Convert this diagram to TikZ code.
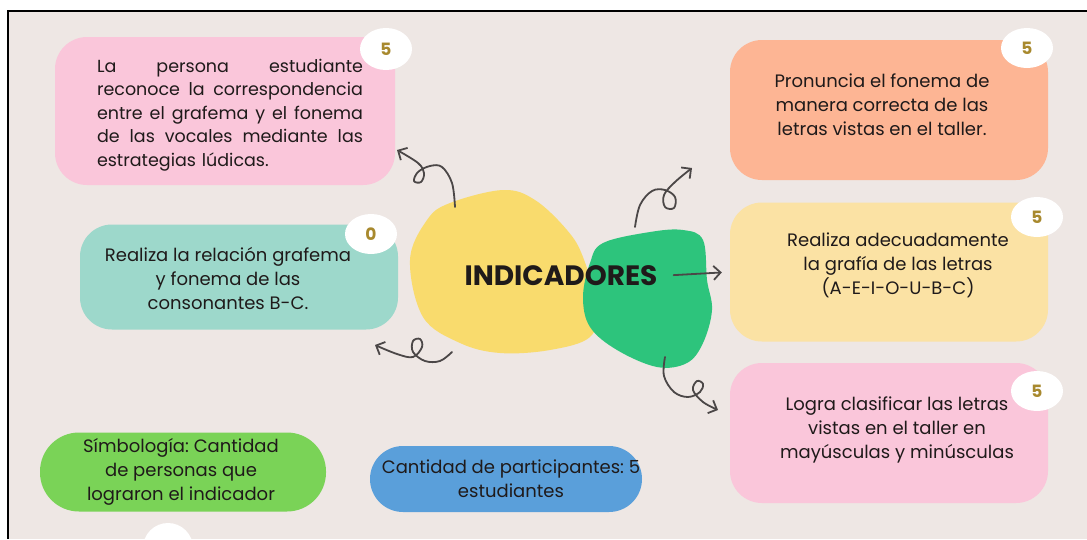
\documentclass[tikz,border=0pt]{standalone}
\usepackage{fontspec}
\setmainfont{Poppins}
\usepackage{tikz}
\usetikzlibrary{arrows.meta,shapes.geometric,positioning}

\definecolor{fondo}{HTML}{EEE7E4}
\definecolor{rosa}{HTML}{FAC6DA}
\definecolor{turquesa}{HTML}{9DD8CB}
\definecolor{salmon}{HTML}{FDB594}
\definecolor{crema}{HTML}{FBE2A4}
\definecolor{verdepill}{HTML}{7AD357}
\definecolor{azulpill}{HTML}{5A9FDA}
\definecolor{amarillo}{HTML}{F9DB6D}
\definecolor{verde}{HTML}{2DC47C}
\definecolor{dorado}{HTML}{A8892E}
\definecolor{linea}{HTML}{4B4747}
\definecolor{tinta}{HTML}{1F1A1A}

\newcommand\lineajust[1]{\leavevmode\hbox to 266pt{\spaceskip=.3em plus 1fil\relax #1}}

\begin{document}
\frenchspacing
\begin{tikzpicture}[x=1pt,y=-1pt,
  caja/.style={rectangle,rounded corners=32pt,minimum width=318pt,minimum height=140pt,inner sep=0pt},
  pill/.style={rectangle,rounded corners=33pt,inner sep=0pt},
  texto/.style={inner sep=0pt,align=center,text=tinta,font=\fontsize{18}{24}\selectfont},
  conteo/.style={ellipse,fill=white,minimum width=52pt,minimum height=42pt,inner sep=0pt,text=dorado,font=\fontsize{17}{17}\selectfont\bfseries},
  flecha/.style={draw=linea,line width=1.8pt,line cap=round,line join=round,-{Straight Barb[length=7pt,width=14pt]}}]
\useasboundingbox (0,0) rectangle (1087,539);
\fill[white] (0,0) rectangle (1087,539);
\fill[fondo] (8,11) rectangle (1087,539);
\draw[line width=2pt] (1087,11) -- (8,11) -- (8,539);

\fill[amarillo] plot[smooth cycle,tension=0.6] coordinates {(450,203) (503,190) (535,200) (567,230) (583,257) (597,307) (590,337) (550,350) (500,353) (460,343) (423,317) (410,260) (427,220)};
\fill[verde] plot[smooth cycle,tension=0.6] coordinates {(603,243) (650,232) (683,230) (703,240) (707,280) (712,310) (703,343) (687,363) (657,367) (617,350) (590,327) (583,297) (590,263)};
\node[inner sep=0pt,text=tinta,font=\fontsize{28}{28}\selectfont\bfseries] (ind) at (561,276) {INDICADORES};

\node[caja,fill=rosa,minimum width=340pt,minimum height=148pt] (vocales) at (225,111) {};
\node[caja,fill=turquesa,minimum height=105pt] (consonantes) at (239,277) {};
\node[caja,fill=salmon] (fonema) at (889,110) {};
\node[caja,fill=crema,minimum height=139pt] (grafia) at (889,272) {};
\node[caja,fill=rosa] (clasifica) at (889,433) {};
\node[pill,fill=verdepill,minimum width=286pt,minimum height=79pt,rounded corners=39pt] (simbologia) at (183,472) {};
\node[pill,fill=azulpill,minimum width=272pt,minimum height=66pt] (participantes) at (506,479) {};

\node[texto,text width=266pt,align=left,font=\fontsize{17.5}{23.5}\selectfont] (vocales-t) at (230,115) {\lineajust{La persona estudiante}\\
  \lineajust{reconoce la correspondencia}\\
  \lineajust{entre el grafema y el fonema}\\
  \lineajust{de las vocales mediante las}\\
  estrategias lúdicas.};
\node[texto] (consonantes-t) at (228,278) {Realiza la relación grafema\\y fonema de las\\consonantes B-C.};
\node[texto] (fonema-t) at (882,105) {Pronuncia el fonema de\\manera correcta de las\\letras vistas en el taller.};
\node[texto] (grafia-t) at (898,265) {Realiza adecuadamente\\la grafía de las letras\\(A-E-I-O-U-B-C)};
\node[texto] (clasifica-t) at (897,430) {Logra clasificar las letras\\vistas en el taller en\\mayúsculas y minúsculas};
\node[texto] (simbologia-t) at (181,472) {Símbología: Cantidad\\de personas que\\lograron el indicador};
\node[texto] (participantes-t) at (511,479) {Cantidad de participantes: 5\\estudiantes};

\node[conteo] (n-vocales) at (386,49) {5};
\node[conteo,minimum height=40pt] (n-consonantes) at (371,234) {0};
\node[conteo,minimum height=40pt] (n-fonema) at (1027,48) {5};
\node[conteo,minimum height=40pt] (n-grafia) at (1037,217) {5};
\node[conteo,minimum height=40pt] (n-clasifica) at (1037,391) {5};
\node[circle,fill=white,minimum size=50pt] (n-extra) at (168,548) {};

\coordinate (a1) at (455,207);
\coordinate (b1) at (397,150);
\coordinate (a2) at (452,352);
\coordinate (b2) at (375,345);
\coordinate (a3) at (635,227);
\coordinate (b3) at (692,168);
\coordinate (a4) at (665,357);
\coordinate (b4) at (718,410);

\draw[flecha] plot[smooth,tension=0.6] coordinates {(a1) (452,183) (442,167) (430,166) (418,172) (414,181) (421,182) (424,173) (418,163) (b1)};
\draw[flecha] plot[smooth,tension=0.6] coordinates {(a2) (440,361) (425,361) (413,352) (413,341) (420,339) (422,347) (413,357) (397,354) (b2)};
\draw[flecha] plot[smooth,tension=0.6] coordinates {(a3) (640,205) (652,191) (665,190) (675,197) (674,208) (665,207) (664,195) (675,182) (b3)};
\draw[flecha] plot[smooth,tension=0.6] coordinates {(a4) (664,376) (674,392) (688,397) (700,392) (703,384) (697,381) (693,390) (703,402) (b4)};
\draw[flecha,shorten <=16pt,shorten >=8pt] (ind.east) -- (grafia.west);
\end{tikzpicture}
\end{document}
